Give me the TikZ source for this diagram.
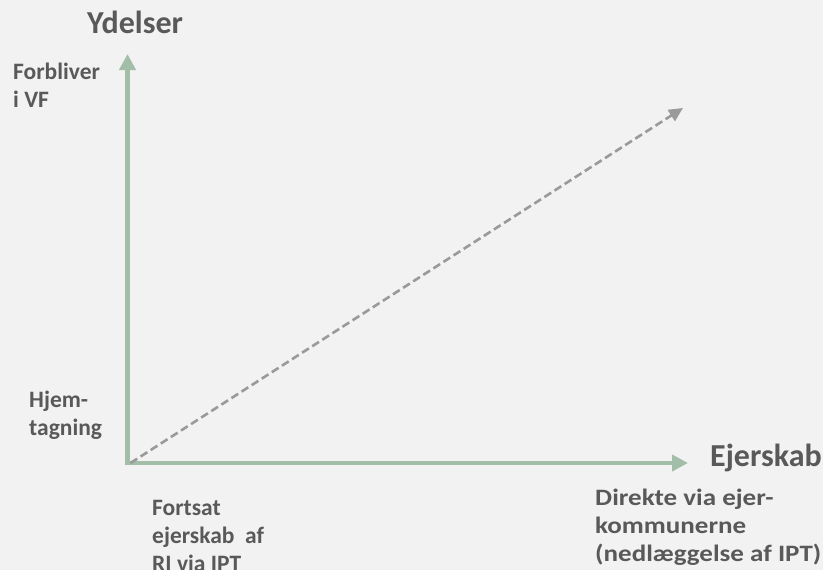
\documentclass[tikz,border=0pt]{standalone}
\usepackage{fontspec}
\setmainfont{Carlito}
\usepackage{xcolor}
\usetikzlibrary{arrows.meta}

\definecolor{bggray}{HTML}{F2F2F2}
\definecolor{axisgreen}{HTML}{A2BEA8}
\definecolor{labelgray}{HTML}{595959}
\definecolor{dashgray}{HTML}{9A9A9A}

\tikzset{
  axis/.style={axisgreen, line width=4.5pt, -{Triangle[length=16pt,width=16pt]}},
  trend/.style={dashgray, line width=2.6pt, dash pattern=on 8pt off 4pt,
    -{Triangle[length=14pt,width=13pt]}},
  axislabel/.style={labelgray, inner sep=0pt, anchor=base west,
    font=\fontsize{32}{38}\selectfont\bfseries},
  ticklabel/.style={labelgray, inner sep=0pt, anchor=base west, align=left,
    font=\fontsize{23.5}{28}\selectfont\bfseries},
}

\begin{document}
\begin{tikzpicture}[x=1pt, y=-1pt]
  \useasboundingbox[fill=bggray] (0,0) rectangle (823,570);

  % axes
  \coordinate (origin) at (127.5,463);
  \coordinate (ytip) at (127.5,54);
  \coordinate (xtip) at (688,463);
  \draw[axis] ([yshift=2.25pt]origin) -- (ytip);
  \draw[axis] ([xshift=-2.25pt]origin) -- (xtip);

  % development path
  \coordinate (pathend) at (683,108);
  \draw[trend] ([xshift=3pt]origin) -- (pathend);

  % axis titles
  \node[axislabel] (ydelser) at (87,33) {Ydelser};
  \node[axislabel] (ejerskab) at (710,466) {Ejerskab};

  % ends of the axes (base anchor sits on the last line)
  \node[ticklabel] (forbliver) at (13,107) {Forbliver\\i VF};
  \node[ticklabel] (hjem) at (29,435) {Hjem-\\tagning};
  \node[ticklabel] (fortsat) at (152,571) {Fortsat\\ejerskab~ af\\RI via IPT};
  \coordinate (direktepos) at (595,561);
  \node[ticklabel, transform shape, xscale=1.15] (direkte) at (direktepos)
    {Direkte via ejer-\\kommunerne\\(nedlæggelse af IPT)};
\end{tikzpicture}
\end{document}
